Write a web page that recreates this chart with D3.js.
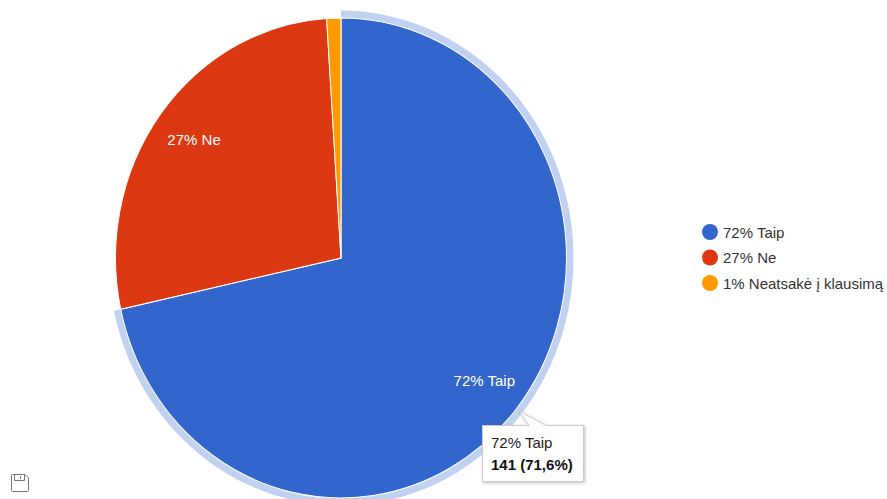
<!DOCTYPE html>
<html><head><meta charset="utf-8">
<script src="https://cdnjs.cloudflare.com/ajax/libs/d3/7.8.5/d3.min.js"></script>
<style>html,body{margin:0;padding:0;background:#fff}svg{display:block}text{font-family:"Liberation Sans",Arial,sans-serif;font-size:15px}</style>
</head><body><div id="c"></div>
<script>
const categories = ["72% Taip", "27% Ne", "1% Neatsakė į klausimą"];
const values = [141, 54, 2];
const colors = ["#3366cc", "#dc3912", "#ff9900"];
const tooltipLines = ["72% Taip", "141 (71,6%)"];

const W = 887, H = 499, cx = 341, cy = 258, rx = 225.5, ry = 240;
const svg = d3.select("#c").append("svg").attr("width", W).attr("height", H);
const defs = svg.append("defs");
const f = defs.append("filter").attr("id","sh").attr("x","-20%").attr("y","-20%").attr("width","140%").attr("height","140%");
f.append("feDropShadow").attr("dx",1).attr("dy",1).attr("stdDeviation",1.5).attr("flood-color","#000").attr("flood-opacity",0.25);

const pie = d3.pie().sort(null).value(d => d);
const arcs = pie(values);
const arc = d3.arc().innerRadius(0).outerRadius(rx);
const halo = d3.arc().innerRadius(rx + 0.5).outerRadius(rx + 7);
const labelArc = d3.arc().innerRadius(184).outerRadius(184);
const sy = ry / rx;

const g = svg.append("g").attr("transform", `translate(${cx},${cy}) scale(1,${sy})`);
g.selectAll("path.s").data(arcs).join("path").attr("class","s")
  .attr("d", arc).attr("fill", (d,i) => colors[i]).attr("stroke","#fff").attr("stroke-width",1);
g.append("path").attr("d", halo(arcs[0])).attr("fill", colors[0]).attr("opacity",0.3);

svg.selectAll("text.l").data(arcs.slice(0,2)).join("text").attr("class","l")
  .attr("x", d => cx + labelArc.centroid(d)[0])
  .attr("y", d => cy + labelArc.centroid(d)[1] * sy + 5)
  .attr("text-anchor","middle").attr("fill","#fff")
  .text((d,i) => categories[i]);

const leg = svg.selectAll("g.k").data(categories).join("g").attr("class","k")
  .attr("transform", (d,i) => `translate(710,${[232,257.5,283][i]})`);
leg.append("circle").attr("r",8).attr("fill",(d,i) => colors[i]);
leg.append("text").attr("x",13).attr("y",5.5).attr("fill","#333").text(d => d);

const tip = svg.append("g");
tip.append("path").attr("d","M482.5,425.5H529L519,411L546,425.5H583.5V481.5H482.5Z")
  .attr("fill","#fff").attr("stroke","#ccc").attr("stroke-width",1).attr("filter","url(#sh)");
tip.append("text").attr("x",491).attr("y",448).attr("fill","#222").text(tooltipLines[0]);
tip.append("text").attr("x",491).attr("y",470).attr("fill","#111").style("font-weight","bold").text(tooltipLines[1]);

const ic = svg.append("g").attr("fill","none").attr("stroke","#777").attr("stroke-width",1);
ic.append("path").attr("d","M11.5,475.5a1,1 0 0 1 1,-1H25l3.5,3.5V490.5a1,1 0 0 1 -1,1H12.5a1,1 0 0 1 -1,-1Z");
ic.append("path").attr("d","M14.5,474.5V480.5H24.5V474.5M20.5,476V479");
</script></body></html>
